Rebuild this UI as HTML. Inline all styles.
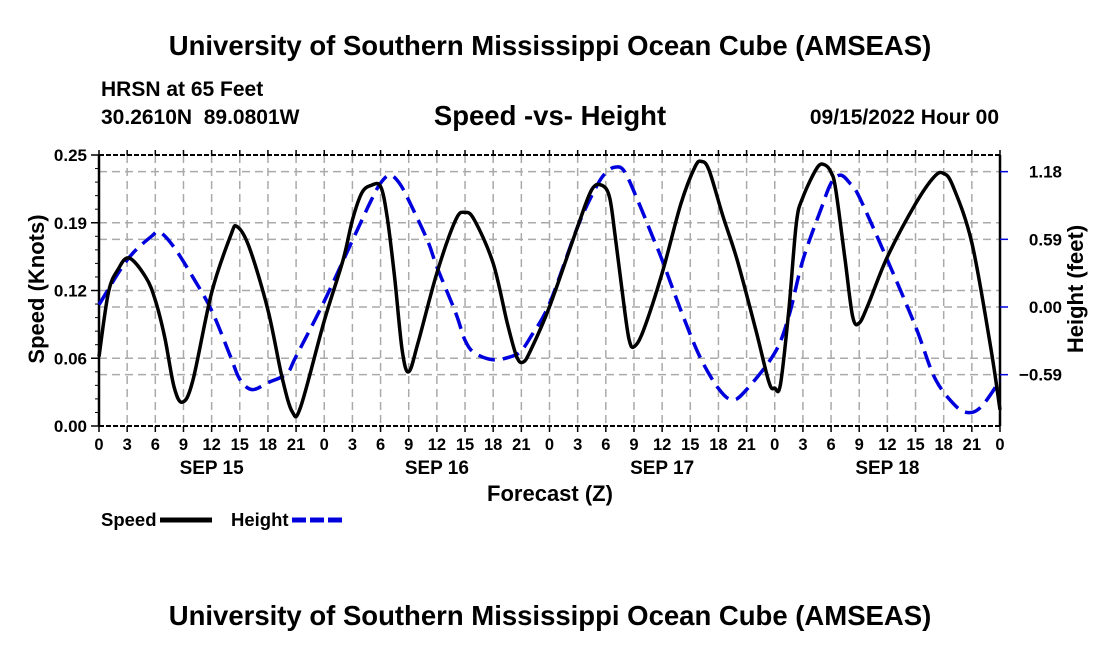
<!DOCTYPE html>
<html><head><meta charset="utf-8"><style>
body{margin:0;background:#fff;}
svg text{font-family:"Liberation Sans",Arial,sans-serif;font-weight:bold;fill:#000;}
</style></head><body>
<svg id="chart" width="1100" height="650" viewBox="0 0 1100 650" xmlns="http://www.w3.org/2000/svg">
<text x="550" y="55" font-size="27.5" text-anchor="middle">University of Southern Mississippi Ocean Cube (AMSEAS)</text>
<text x="101" y="96" font-size="21">HRSN at 65 Feet</text>
<text x="101" y="124" font-size="21" xml:space="preserve">30.2610N  89.0801W</text>
<text x="550" y="125" font-size="27.5" text-anchor="middle">Speed -vs- Height</text>
<text x="999" y="124" font-size="21" text-anchor="end">09/15/2022 Hour 00</text>
<g id="grid"></g>
<g id="axes"></g>
<g id="series"></g>
<text transform="translate(44,289) rotate(-90)" font-size="22" text-anchor="middle">Speed (Knots)</text>
<text transform="translate(1083,289) rotate(-90)" font-size="22" text-anchor="middle">Height (feet)</text>
<text x="550" y="501" font-size="22" text-anchor="middle">Forecast (Z)</text>
<g>
<text x="101" y="526" font-size="18.5">Speed</text>
<line x1="160" y1="520" x2="212" y2="520" stroke="#000" stroke-width="5"/>
<text x="231" y="526" font-size="18.5">Height</text>
<line x1="292" y1="520" x2="342" y2="520" stroke="#0000dd" stroke-width="5" stroke-dasharray="14,4"/>
</g>
<text x="550" y="625" font-size="27.5" text-anchor="middle">University of Southern Mississippi Ocean Cube (AMSEAS)</text>
</svg>
<script>
const speedHours=[0,1,2,3.2,5,6,7,8,8.9,10,12,14,14.7,16,18,19.5,20.6,21.5,24,26,27,28,29,30,30.7,31.5,32.3,33,34,36,38,39,40,42,43.5,44.5,45.2,46,48,51,52.5,53.6,54.4,55,56,56.5,57,58,60,62,63.5,64.2,65,66.5,68,70,71.4,72,72.6,73.5,74.3,75,76.5,77.3,78,78.5,79.5,80.3,81,82,84,87,89,90,91,93,95,96];
const speedValues=[0.064,0.123,0.144,0.155,0.137,0.116,0.082,0.036,0.022,0.042,0.123,0.175,0.184,0.165,0.107,0.045,0.013,0.018,0.097,0.153,0.19,0.215,0.222,0.221,0.193,0.137,0.07,0.05,0.077,0.141,0.19,0.197,0.19,0.15,0.095,0.064,0.059,0.07,0.11,0.184,0.218,0.222,0.211,0.175,0.107,0.079,0.073,0.088,0.141,0.205,0.239,0.244,0.236,0.193,0.153,0.088,0.04,0.035,0.038,0.107,0.187,0.211,0.238,0.241,0.234,0.218,0.153,0.101,0.095,0.113,0.156,0.205,0.23,0.233,0.221,0.169,0.073,0.015];
const heightHours=[0,3,5.5,6.5,8,10,12,14,15,16.3,18,20,21,24,27,29,30,31,32,33,35,36,38,39,40,42,44,45,46,48,51,53,54,55,56,57.5,59,60,62,64,66,67.5,69,72,73.5,75,77,78,79,80,81,84,87,89,91,92.5,94,96];
const heightValues=[0.02,0.41,0.61,0.65,0.52,0.26,-0.03,-0.43,-0.63,-0.72,-0.66,-0.58,-0.43,0.05,0.58,0.93,1.08,1.15,1.08,0.93,0.58,0.35,-0.05,-0.29,-0.4,-0.46,-0.43,-0.38,-0.26,0.03,0.7,1.05,1.17,1.22,1.18,0.91,0.61,0.41,-0.03,-0.43,-0.71,-0.81,-0.72,-0.4,-0.08,0.41,0.87,1.08,1.15,1.08,0.96,0.41,-0.17,-0.61,-0.84,-0.92,-0.87,-0.64];
const xTickLabels=["0","3","6","9","12","15","18","21"];
const dayLabels=["SEP 15","SEP 16","SEP 17","SEP 18"];
const speedTicks=[0,0.0625,0.125,0.1875,0.25];
const speedTickLabels=["0.00","0.06","0.12","0.19","0.25"];
const heightTicks=[1.18,0.59,0,-0.59];
const heightTickLabels=["1.18","0.59","0.00","\u22120.59"];

const L=99,R=1000,T=155,B=426;
const xs=h=>L+h*(R-L)/96;
const ys=s=>B-s*(B-T)/0.25;
const yh=v=>307-v*114.7;
const NS="http://www.w3.org/2000/svg";
function mk(p,tag,a){const e=document.createElementNS(NS,tag);for(const k in a)e.setAttribute(k,a[k]);p.appendChild(e);return e;}
const grid=document.getElementById('grid'),axes=document.getElementById('axes'),ser=document.getElementById('series');
const gs={stroke:"#aaa","stroke-width":1.5,"stroke-dasharray":"8,5"};
for(let h=3;h<96;h+=3){const l=mk(grid,'line',Object.assign({x1:xs(h),x2:xs(h),y1:T,y2:B},gs));

}
speedTicks.slice(1,4).forEach(s=>{const l=mk(grid,'line',Object.assign({x1:L,x2:R,y1:ys(s),y2:ys(s)},gs));

});
heightTicks.forEach(v=>{const l=mk(grid,'line',Object.assign({x1:L,x2:R,y1:yh(v),y2:yh(v)},gs));

});
mk(axes,'line',{x1:L,x2:L,y1:T,y2:B,stroke:"#000","stroke-width":2.5});
mk(axes,'line',{x1:R,x2:R,y1:T,y2:B,stroke:"#000","stroke-width":2.5});
mk(axes,'line',{x1:L,x2:R,y1:T,y2:T,stroke:"#000","stroke-width":2,"stroke-dasharray":"5,2"});
mk(axes,'line',{x1:L,x2:R,y1:B,y2:B,stroke:"#000","stroke-width":2,"stroke-dasharray":"5,2"});
for(let h=0;h<=96;h+=3){
 mk(axes,'line',{x1:xs(h),x2:xs(h),y1:B,y2:B+6,stroke:"#000","stroke-width":1.5});
 mk(axes,'line',{x1:xs(h),x2:xs(h),y1:T,y2:T-5,stroke:"#000","stroke-width":1.5});
 const t=mk(axes,'text',{x:xs(h),y:B+24,"font-size":16.5,"text-anchor":"middle"});
 t.textContent=xTickLabels[(h/3)%8];
 
 
}
dayLabels.forEach((d,i)=>{const t=mk(axes,'text',{x:xs(12+24*i),y:B+48,"font-size":19,"text-anchor":"middle"});t.textContent=d;

});
speedTicks.forEach((s,i)=>{mk(axes,'line',{x1:L-8,x2:L,y1:ys(s),y2:ys(s),stroke:"#000","stroke-width":1.5});
const t=mk(axes,'text',{x:L-12,y:ys(s)+6,"font-size":17,"text-anchor":"end"});t.textContent=speedTickLabels[i];

});
for(let s=0;s<=0.25;s+=0.0125)mk(axes,'line',{x1:L-4,x2:L,y1:ys(s),y2:ys(s),stroke:"#000","stroke-width":1});
heightTicks.forEach((v,i)=>{mk(axes,'line',{x1:R,x2:R+8,y1:yh(v),y2:yh(v),stroke:"#0000dd","stroke-width":1.5});
const t=mk(axes,'text',{x:R+62,y:yh(v)+6,"font-size":17,"text-anchor":"end"});t.textContent=heightTickLabels[i];

});
function smooth(px){let d="M"+px[0][0]+","+px[0][1];for(let i=0;i<px.length-1;i++){const p0=px[Math.max(0,i-1)],p1=px[i],p2=px[i+1],p3=px[Math.min(px.length-1,i+2)];
d+=" C"+(p1[0]+(p2[0]-p0[0])/6)+","+(p1[1]+(p2[1]-p0[1])/6)+" "+(p2[0]-(p3[0]-p1[0])/6)+","+(p2[1]-(p3[1]-p1[1])/6)+" "+p2[0]+","+p2[1];}return d;}
const hp=mk(ser,'path',{d:smooth(heightHours.map((h,i)=>[xs(h),yh(heightValues[i])])),fill:"none",stroke:"#0000dd","stroke-width":3.5,"stroke-dasharray":"17,8"});


const sp=mk(ser,'path',{d:smooth(speedHours.map((h,i)=>[xs(h),ys(speedValues[i])])),fill:"none",stroke:"#000","stroke-width":3.5,"stroke-linejoin":"round"});


</script>
</body></html>
